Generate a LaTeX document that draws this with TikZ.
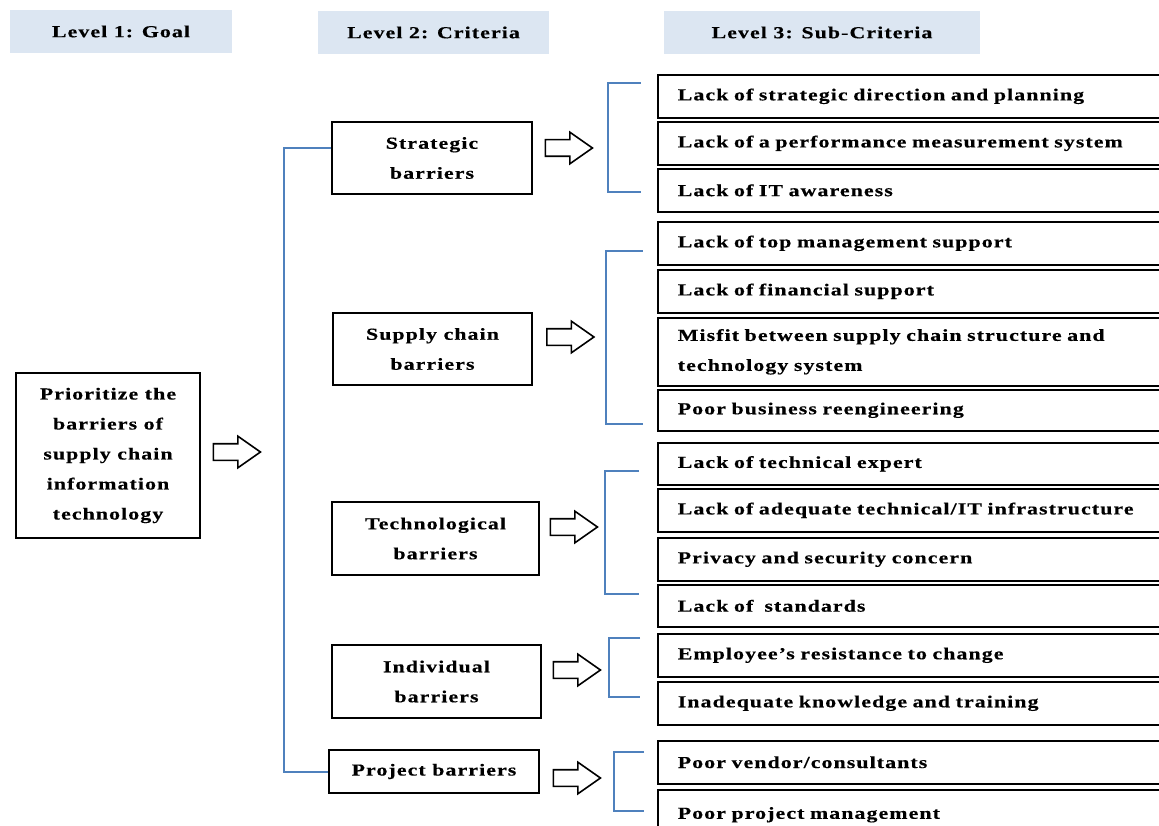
\documentclass[tikz,border=0pt]{standalone}
\usepackage{fontspec}
\newfontfamily\barfont[FakeStretch=1.3,LetterSpace=6.5,FakeBold=0.4]{Liberation Serif Bold}
\usetikzlibrary{shapes,calc}
\definecolor{hdrblue}{RGB}{220,230,242}
\definecolor{linkblue}{RGB}{79,129,189}
\tikzset{
    every node/.style={font=\barfont\fontsize{16.8}{30}\selectfont},
    hdr/.style={fill=hdrblue, minimum height=43pt},
    crit/.style={draw, line width=1.6pt, align=center},
    sub/.style={draw, line width=1.6pt, anchor=north west, minimum width=520pt,
        text width=480pt, inner xsep=20pt, inner ysep=0pt, align=left},
    fat/.style={single arrow, draw, line width=1.6pt, minimum height=47pt,
        minimum width=30pt, single arrow head extend=7.5pt,
        single arrow tip angle=70, inner sep=7.5pt},
    link/.style={linkblue, line width=2pt},
}

\begin{document}
\begin{tikzpicture}[x=1pt, y=-1pt]
    \useasboundingbox (0,0) rectangle (1159,826);
    \clip (0,0) rectangle (1159,826);

    % levels
    \node[hdr, minimum width=222pt] (L1) at (121,31.5) {Level 1: Goal};
    \node[hdr, minimum width=231pt] (L2) at (433.5,32.5) {Level 2: Criteria};
    \node[hdr, minimum width=316pt] (L3) at (822,32.5) {Level 3: Sub-Criteria};

    % goal
    \node[crit, minimum width=184pt, minimum height=165pt] (goal) at (108,455.5)
        {Prioritize the\\barriers of\\supply chain\\information\\technology};
    \node[fat] (a0) at (231,452) {};

    % criteria
    \node[crit, minimum width=200pt, minimum height=72pt] (strat) at (432,158) {Strategic\\barriers};
    \node[crit, minimum width=199pt, minimum height=72pt] (supp) at (432.5,349) {Supply chain\\barriers};
    \node[crit, minimum width=207pt, minimum height=73pt] (tech) at (435.5,538.5) {Technological\\barriers};
    \node[crit, minimum width=209pt, minimum height=73pt] (indi) at (436.5,681.5) {Individual\\barriers};
    \node[crit, minimum width=210pt, minimum height=43pt] (proj) at (434,771.5) {Project barriers};

    \draw[link] ([yshift=10pt]strat.west) -- ++(-47,0) |- (proj.west);

    \node[fat] (a1) at (563,148) {};
    \node[fat] (a2) at (564.5,337) {};
    \node[fat] (a3) at (568,527) {};
    \node[fat] (a4) at (571,670) {};
    \node[fat] (a5) at (571,778) {};

    % sub-criteria
    \node[sub, minimum height=43pt] (s1) at (657,74) {Lack of strategic direction and planning};
    \node[sub, minimum height=43pt] (s2) at (657,121) {Lack of a performance measurement system};
    \node[sub, minimum height=43pt] (s3) at (657,168) {Lack of IT awareness};
    \node[sub, minimum height=43pt] (s4) at (657,221) {Lack of top management support};
    \node[sub, minimum height=43pt] (s5) at (657,269) {Lack of financial support};
    \node[sub, minimum height=68pt] (s6) at (657,317) {Misfit between supply chain structure and\\technology system};
    \node[sub, minimum height=41pt] (s7) at (657,389) {Poor business reengineering};
    \node[sub, minimum height=42pt] (s8) at (657,442) {Lack of technical expert};
    \node[sub, minimum height=43pt] (s9) at (657,488) {Lack of adequate technical/IT infrastructure};
    \node[sub, minimum height=43pt] (s10) at (657,537) {Privacy and security concern};
    \node[sub, minimum height=42pt] (s11) at (657,584) {Lack of~ standards};
    \node[sub, minimum height=43pt] (s12) at (657,633) {Employee’s resistance to change};
    \node[sub, minimum height=43pt] (s13) at (657,681) {Inadequate knowledge and training};
    \node[sub, minimum height=43pt] (s14) at (657,740) {Poor vendor/consultants};
    \node[sub, minimum height=50pt] (s15) at (657,789) {Poor project management};

    % brackets
    \draw[link] (640.5,83) -| (607.5,192) -- (640.5,192);
    \draw[link] (642.5,251) -| (606,424) -- (642.5,424);
    \draw[link] (639,471) -| (605,594) -- (639,594);
    \draw[link] (640,638) -| (609,697) -- (640,697);
    \draw[link] (644,752) -| (614,811) -- (644,811);
\end{tikzpicture}
\end{document}
